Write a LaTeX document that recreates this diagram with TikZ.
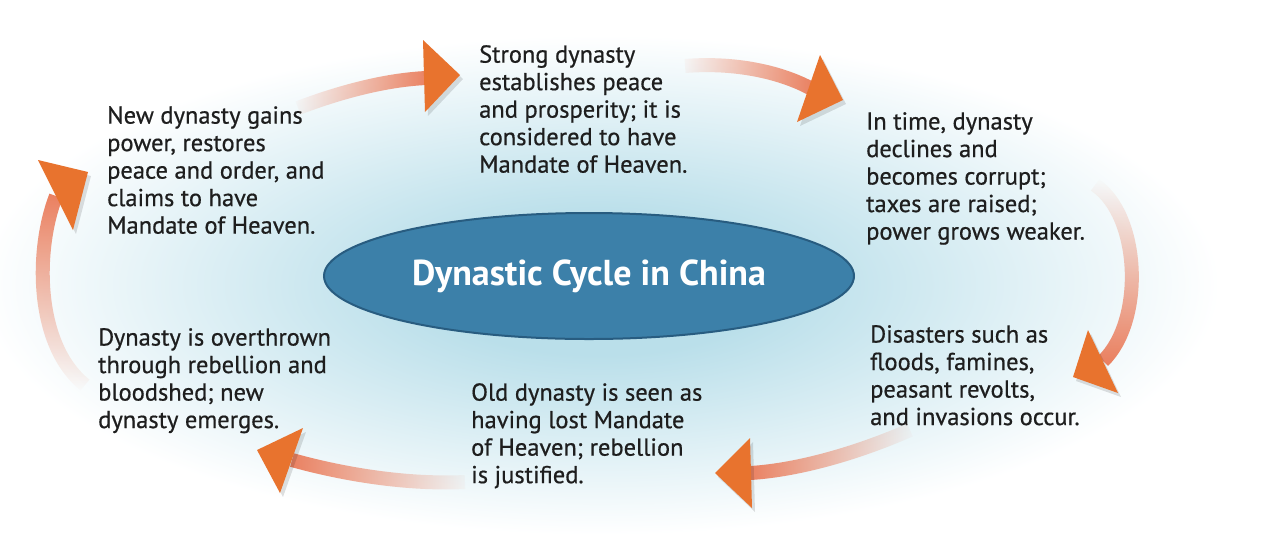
\documentclass[tikz,border=0pt]{standalone}
\usepackage{fontspec}
\setmainfont{PT Sans}
\newfontfamily\bodyfont{PT Sans}[FakeBold=0.6]
\usetikzlibrary{fadings,shapes.geometric}
\definecolor{txt}{HTML}{1E1E1E}
\definecolor{glow}{HTML}{BADFEA}
\definecolor{ell}{HTML}{3C80A9}
\definecolor{elldark}{HTML}{285C80}
\definecolor{head}{HTML}{E8732E}
\definecolor{shaft}{HTML}{EA7D5C}
\tikzfading[name=shaftfade, left color=transparent!100, right color=transparent!0]
\pgfdeclareradialshading{glowshade}{\pgfpoint{0bp}{0bp}}{color(0bp)=(glow); color(7bp)=(glow); color(25bp)=(white); color(50bp)=(white)}
\begin{document}
\begin{tikzpicture}[x=1pt,y=-1pt,
  txtbox/.style={anchor=north west, inner sep=0pt, align=left, text=txt, font=\bodyfont\fontsize{24.5}{27.5}\selectfont},
  arrowshaft/.style={draw=shaft, line width=14pt, path fading=shaftfade},
  arrowhead/.style={fill=head},
  headshadow/.style={fill=black, opacity=0.12}]
\useasboundingbox[fill=white] (0,0) rectangle (1268,542);
\shade[shading=glowshade] (600,285) ellipse [x radius=620, y radius=250];

\node[ellipse, minimum width=530pt, minimum height=126pt, fill=ell, draw=elldark, line width=2pt,
  text=white, font=\fontsize{36}{40}\selectfont\bfseries] (title) at (589,276) {Dynastic Cycle in China};

\node[txtbox] (tl) at (107,106) {New dynasty gains\\power, restores\\peace and order, and\\claims to have\\Mandate of Heaven.};
\node[txtbox] (tc) at (479,45) {Strong dynasty\\establishes peace\\and prosperity; it is\\considered to have\\Mandate of Heaven.};
\node[txtbox] (tr) at (866,112) {In time, dynasty\\declines and\\becomes corrupt;\\taxes are raised;\\power grows weaker.};
\node[txtbox] (br) at (870,325) {Disasters such as\\floods, famines,\\peasant revolts,\\and invasions occur.};
\node[txtbox] (bc) at (471,383) {Old dynasty is seen as\\having lost Mandate\\of Heaven; rebellion\\is justified.};
\node[txtbox] (bl) at (98,328) {Dynasty is overthrown\\through rebellion and\\bloodshed; new\\dynasty emerges.};

% arrow 1
\coordinate (s1) at (298,108); \coordinate (b1) at (426,78);
\draw[arrowshaft, fading angle=0] (s1) .. controls (340,92) and (385,80) .. (b1);
\fill[headshadow] (426,44) -- (463,79) -- (428,116) -- cycle;
\fill[arrowhead] (423,40) -- (460,75) -- (425,112) -- cycle;
% arrow 2
\coordinate (s2) at (685,66); \coordinate (b2) at (810,88);
\draw[arrowshaft, fading angle=0] (s2) .. controls (735,62) and (780,72) .. (b2);
\fill[headshadow] (823,59) -- (846,104) -- (800,126) -- cycle;
\fill[arrowhead] (820,55) -- (843,100) -- (797,122) -- cycle;
% arrow 3
\coordinate (s3) at (1095,185); \coordinate (b3) at (1103,361);
\draw[arrowshaft, fading angle=-90] (s3) .. controls (1140,215) and (1145,320) .. (b3);
\fill[headshadow] (1091,334) -- (1076,381) -- (1121,397) -- cycle;
\fill[arrowhead] (1088,330) -- (1073,377) -- (1118,393) -- cycle;
% arrow 4
\coordinate (s4) at (910,430); \coordinate (b4) at (750,473);
\draw[arrowshaft, fading angle=180] (s4) .. controls (860,452) and (800,470) .. (b4);
\fill[headshadow] (753,442) -- (718,477) -- (755,512) -- cycle;
\fill[arrowhead] (750,438) -- (715,473) -- (752,508) -- cycle;
% arrow 5
\coordinate (s5) at (465,482); \coordinate (b5) at (292,460);
\draw[arrowshaft, fading angle=180] (s5) .. controls (400,485) and (335,472) .. (b5);
\fill[headshadow] (306,432) -- (260,454) -- (283,497) -- cycle;
\fill[arrowhead] (303,428) -- (257,450) -- (280,493) -- cycle;
% arrow 6
\coordinate (s6) at (85,385); \coordinate (b6) at (56,196);
\draw[arrowshaft, fading angle=90] (s6) .. controls (35,345) and (35,250) .. (b6);
\fill[headshadow] (41,164) -- (91,176) -- (76,234) -- cycle;
\fill[arrowhead] (38,160) -- (88,172) -- (73,230) -- cycle;
\end{tikzpicture}
\end{document}
